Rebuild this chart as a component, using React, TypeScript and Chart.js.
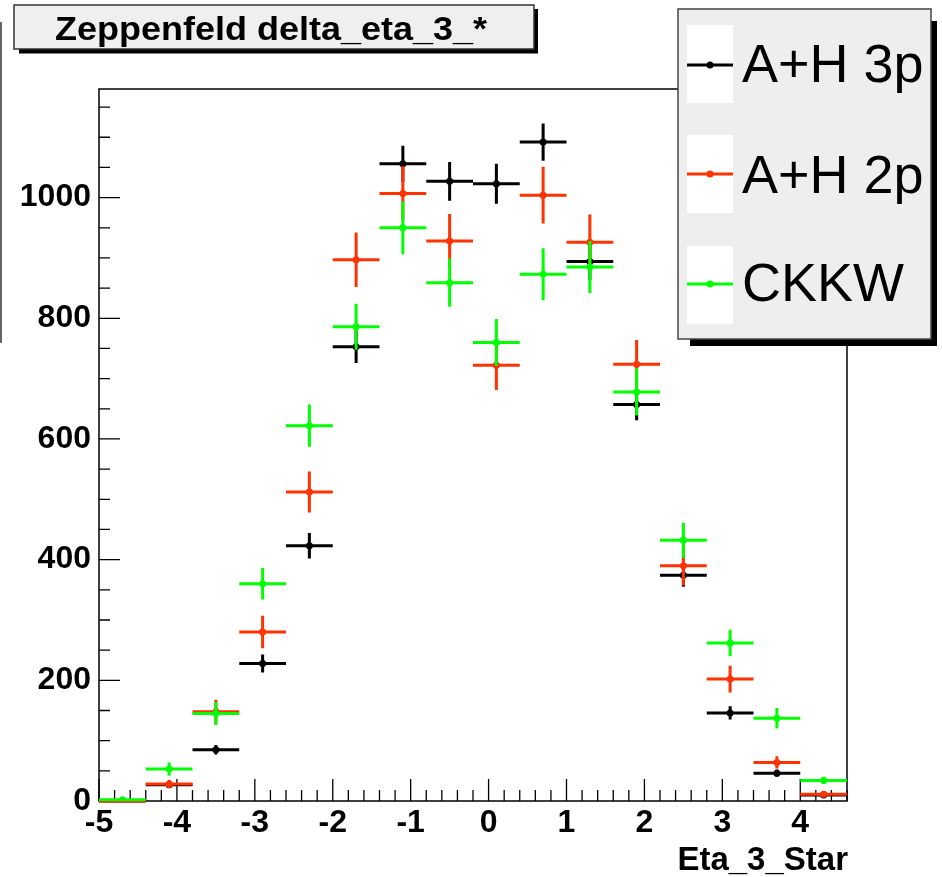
import React, { useEffect, useRef } from "react";
import { Chart, registerables } from "chart.js";

Chart.register(...registerables);

// ---- data ----
const binCenters = [-4.7, -4.1, -3.5, -2.9, -2.3, -1.7, -1.1, -0.5, 0.1, 0.7, 1.3, 1.9, 2.5, 3.1, 3.7, 4.3];
const binWidth = 0.6;

const ah3pValues = [0, 27, 85, 228, 423, 753, 1056, 1027, 1023, 1092, 894, 657, 374, 146, 46, 10];
const ah3pErrors = [0, 5, 8, 15, 21, 27, 30, 32, 33, 31, 30, 26, 19, 11, 6, 3];
const ah2pValues = [0, 28, 148, 280, 512, 897, 1007, 928, 722, 1004, 926, 724, 390, 202, 64, 11];
const ah2pErrors = [0, 7, 20, 27, 34, 45, 45, 45, 41, 47, 46, 40, 33, 22, 10, 4];
const ckkwValues = [2, 53, 145, 360, 622, 786, 950, 859, 760, 873, 885, 678, 432, 262, 137, 34];
const ckkwErrors = [2, 11, 19, 26, 35, 38, 44, 40, 39, 43, 43, 39, 29, 22, 17, 6];

const seriesLabels = ["A+H 3p", "A+H 2p", "CKKW"];
const seriesColors = ["#000000", "#ff3300", "#00ff00"];
const seriesValues = [ah3pValues, ah2pValues, ckkwValues];
const seriesErrors = [ah3pErrors, ah2pErrors, ckkwErrors];

const xTickValues = [-5, -4, -3, -2, -1, 0, 1, 2, 3, 4];
const yTickValues = [0, 200, 400, 600, 800, 1000];

const xMin = -5;
const xMax = 4.6;
const yMin = 0;
const yMax = 1180;
const xMinorStep = 0.2;
const yMinorStep = 50;

const titleText = "Zeppenfeld delta_eta_3_*";
const xAxisTitle = "Eta_3_Star";

const FONT = "'Liberation Sans', Arial, Helvetica, sans-serif";

const errorBarPlugin = {
  id: "errorBars",
  afterDatasetDraw(chart: any, args: any) {
    const idx = args.index;
    const ds = chart.data.datasets[idx];
    const errs = seriesErrors[ds.seriesIndex];
    const xs = chart.scales.x;
    const ys = chart.scales.y;
    const ctx = chart.ctx;
    ctx.save();
    ctx.strokeStyle = ds.borderColor;
    ctx.lineWidth = 3;
    ctx.lineCap = "butt";
    ds.data.forEach((p: any, i: number) => {
      const x0 = xs.getPixelForValue(p.x - binWidth / 2);
      const x1 = xs.getPixelForValue(p.x + binWidth / 2);
      const xc = xs.getPixelForValue(p.x);
      const y = ys.getPixelForValue(p.y);
      ctx.beginPath();
      ctx.moveTo(x0, y);
      ctx.lineTo(x1, y);
      const e = errs[i];
      if (e > 0) {
        ctx.moveTo(xc, ys.getPixelForValue(p.y + e));
        ctx.lineTo(xc, ys.getPixelForValue(Math.max(0, p.y - e)));
      }
      ctx.stroke();
    });
    ctx.restore();
  },
};

const framePlugin = {
  id: "frame",
  beforeDatasetsDraw(chart: any) {
    const { ctx, chartArea: a } = chart;
    const xs = chart.scales.x;
    const ys = chart.scales.y;
    ctx.save();
    ctx.strokeStyle = "#000";
    ctx.lineWidth = 1.5;
    ctx.strokeRect(a.left, a.top, a.right - a.left, a.bottom - a.top);
    ctx.lineWidth = 1.3;
    ctx.beginPath();
    const nx = Math.round((xMax - xMin) / xMinorStep);
    for (let k = 0; k <= nx; k++) {
      const v = xMin + k * xMinorStep;
      const px = xs.getPixelForValue(v);
      const major = xTickValues.some((t) => Math.abs(t - v) < 1e-6);
      ctx.moveTo(px, a.bottom);
      ctx.lineTo(px, a.bottom - (major ? 22 : 11));
    }
    for (let v = yMin; v < yMax; v += yMinorStep) {
      const py = ys.getPixelForValue(v);
      const major = yTickValues.indexOf(v) >= 0;
      ctx.moveTo(a.left, py);
      ctx.lineTo(a.left + (major ? 21 : 11), py);
    }
    ctx.stroke();
    ctx.restore();
  },
};

const decorPlugin = {
  id: "decor",
  afterDraw(chart: any) {
    const ctx = chart.ctx;
    ctx.save();
    // stray pad border on the left
    ctx.strokeStyle = "#333";
    ctx.lineWidth = 1.5;
    ctx.beginPath();
    ctx.moveTo(1, 22);
    ctx.lineTo(1, 343);
    ctx.stroke();

    // title box
    ctx.fillStyle = "#000";
    ctx.fillRect(19, 9, 519, 44.5);
    ctx.fillStyle = "#efefef";
    ctx.fillRect(14, 5, 520, 44);
    ctx.strokeStyle = "#333";
    ctx.lineWidth = 1.5;
    ctx.strokeRect(14, 5, 520, 44);
    ctx.fillStyle = "#000";
    ctx.font = `bold 33px ${FONT}`;
    ctx.textBaseline = "alphabetic";
    ctx.textAlign = "left";
    const tw = ctx.measureText(titleText).width;
    ctx.save();
    ctx.translate(55, 39.5);
    ctx.scale(432 / tw, 1);
    ctx.fillText(titleText, 0, 0);
    ctx.restore();

    // legend
    ctx.fillStyle = "#000";
    ctx.fillRect(690, 21, 247, 325);
    ctx.fillStyle = "#eeeeee";
    ctx.fillRect(678, 9, 253, 330);
    ctx.strokeStyle = "#444";
    ctx.lineWidth = 1.5;
    ctx.strokeRect(678, 9, 253, 330);
    const boxTops = [25, 135, 246];
    const lineYs = [65, 174, 284];
    const baselines = [82, 193, 301];
    ctx.font = `54px ${FONT}`;
    for (let i = 0; i < seriesLabels.length; i++) {
      ctx.fillStyle = "#ffffff";
      ctx.fillRect(687, boxTops[i], 46, 78);
      ctx.strokeStyle = seriesColors[i];
      ctx.lineWidth = 3;
      ctx.beginPath();
      ctx.moveTo(687, lineYs[i]);
      ctx.lineTo(733, lineYs[i]);
      ctx.stroke();
      ctx.fillStyle = seriesColors[i];
      ctx.beginPath();
      ctx.arc(710, lineYs[i], 3.5, 0, Math.PI * 2);
      ctx.fill();
      ctx.fillStyle = "#000";
      ctx.fillText(seriesLabels[i], 742, baselines[i]);
    }

    // x axis title
    ctx.font = `bold 33px ${FONT}`;
    ctx.textAlign = "right";
    ctx.fillStyle = "#000";
    ctx.fillText(xAxisTitle, 848, 870);
    ctx.restore();
  },
};

export default function App() {
  const canvasRef = useRef<HTMLCanvasElement | null>(null);

  useEffect(() => {
    const canvas = canvasRef.current;
    if (!canvas) return;
    const orders = [2, 1, 0];
    const chart = new Chart(canvas, {
      type: "scatter",
      data: {
        datasets: seriesLabels.map((label, s) => ({
          label,
          seriesIndex: s,
          data: binCenters.map((x, i) => ({ x, y: seriesValues[s][i] })),
          borderColor: seriesColors[s],
          backgroundColor: seriesColors[s],
          pointRadius: 3.5,
          pointBorderWidth: 0,
          pointHoverRadius: 3.5,
          showLine: false,
          order: orders[s],
        })) as any,
      },
      options: {
        animation: false,
        responsive: false,
        devicePixelRatio: 1,
        events: [],
        layout: { padding: { top: 89, right: 95, left: 0, bottom: 0 } },
        plugins: {
          legend: { display: false },
          tooltip: { enabled: false },
          title: { display: false },
        },
        scales: {
          x: {
            type: "linear",
            min: xMin,
            max: xMax,
            afterBuildTicks: (s: any) => {
              s.ticks = xTickValues.map((value) => ({ value }));
            },
            afterFit: (s: any) => {
              s.height = 76;
            },
            grid: { display: false, drawTicks: false },
            border: { display: false },
            ticks: {
              autoSkip: false,
              maxRotation: 0,
              padding: 3,
              color: "#000",
              callback: (v: any) => String(v),
              font: { family: FONT, size: 32, weight: "bold" },
            },
          },
          y: {
            type: "linear",
            min: yMin,
            max: yMax,
            afterBuildTicks: (s: any) => {
              s.ticks = yTickValues.map((value) => ({ value }));
            },
            afterFit: (s: any) => {
              s.width = 99;
            },
            grid: { display: false, drawTicks: false },
            border: { display: false },
            ticks: {
              autoSkip: false,
              padding: 8,
              color: "#000",
              callback: (v: any) => String(v),
              font: { family: FONT, size: 32, weight: "bold" },
            },
          },
        },
      } as any,
      plugins: [framePlugin, errorBarPlugin, decorPlugin],
    });
    return () => chart.destroy();
  }, []);

  return (
    <div style={{ position: "absolute", left: 0, top: 0, width: 942, height: 877, background: "#fff" }}>
      <canvas ref={canvasRef} width={942} height={877} style={{ display: "block" }} />
    </div>
  );
}
